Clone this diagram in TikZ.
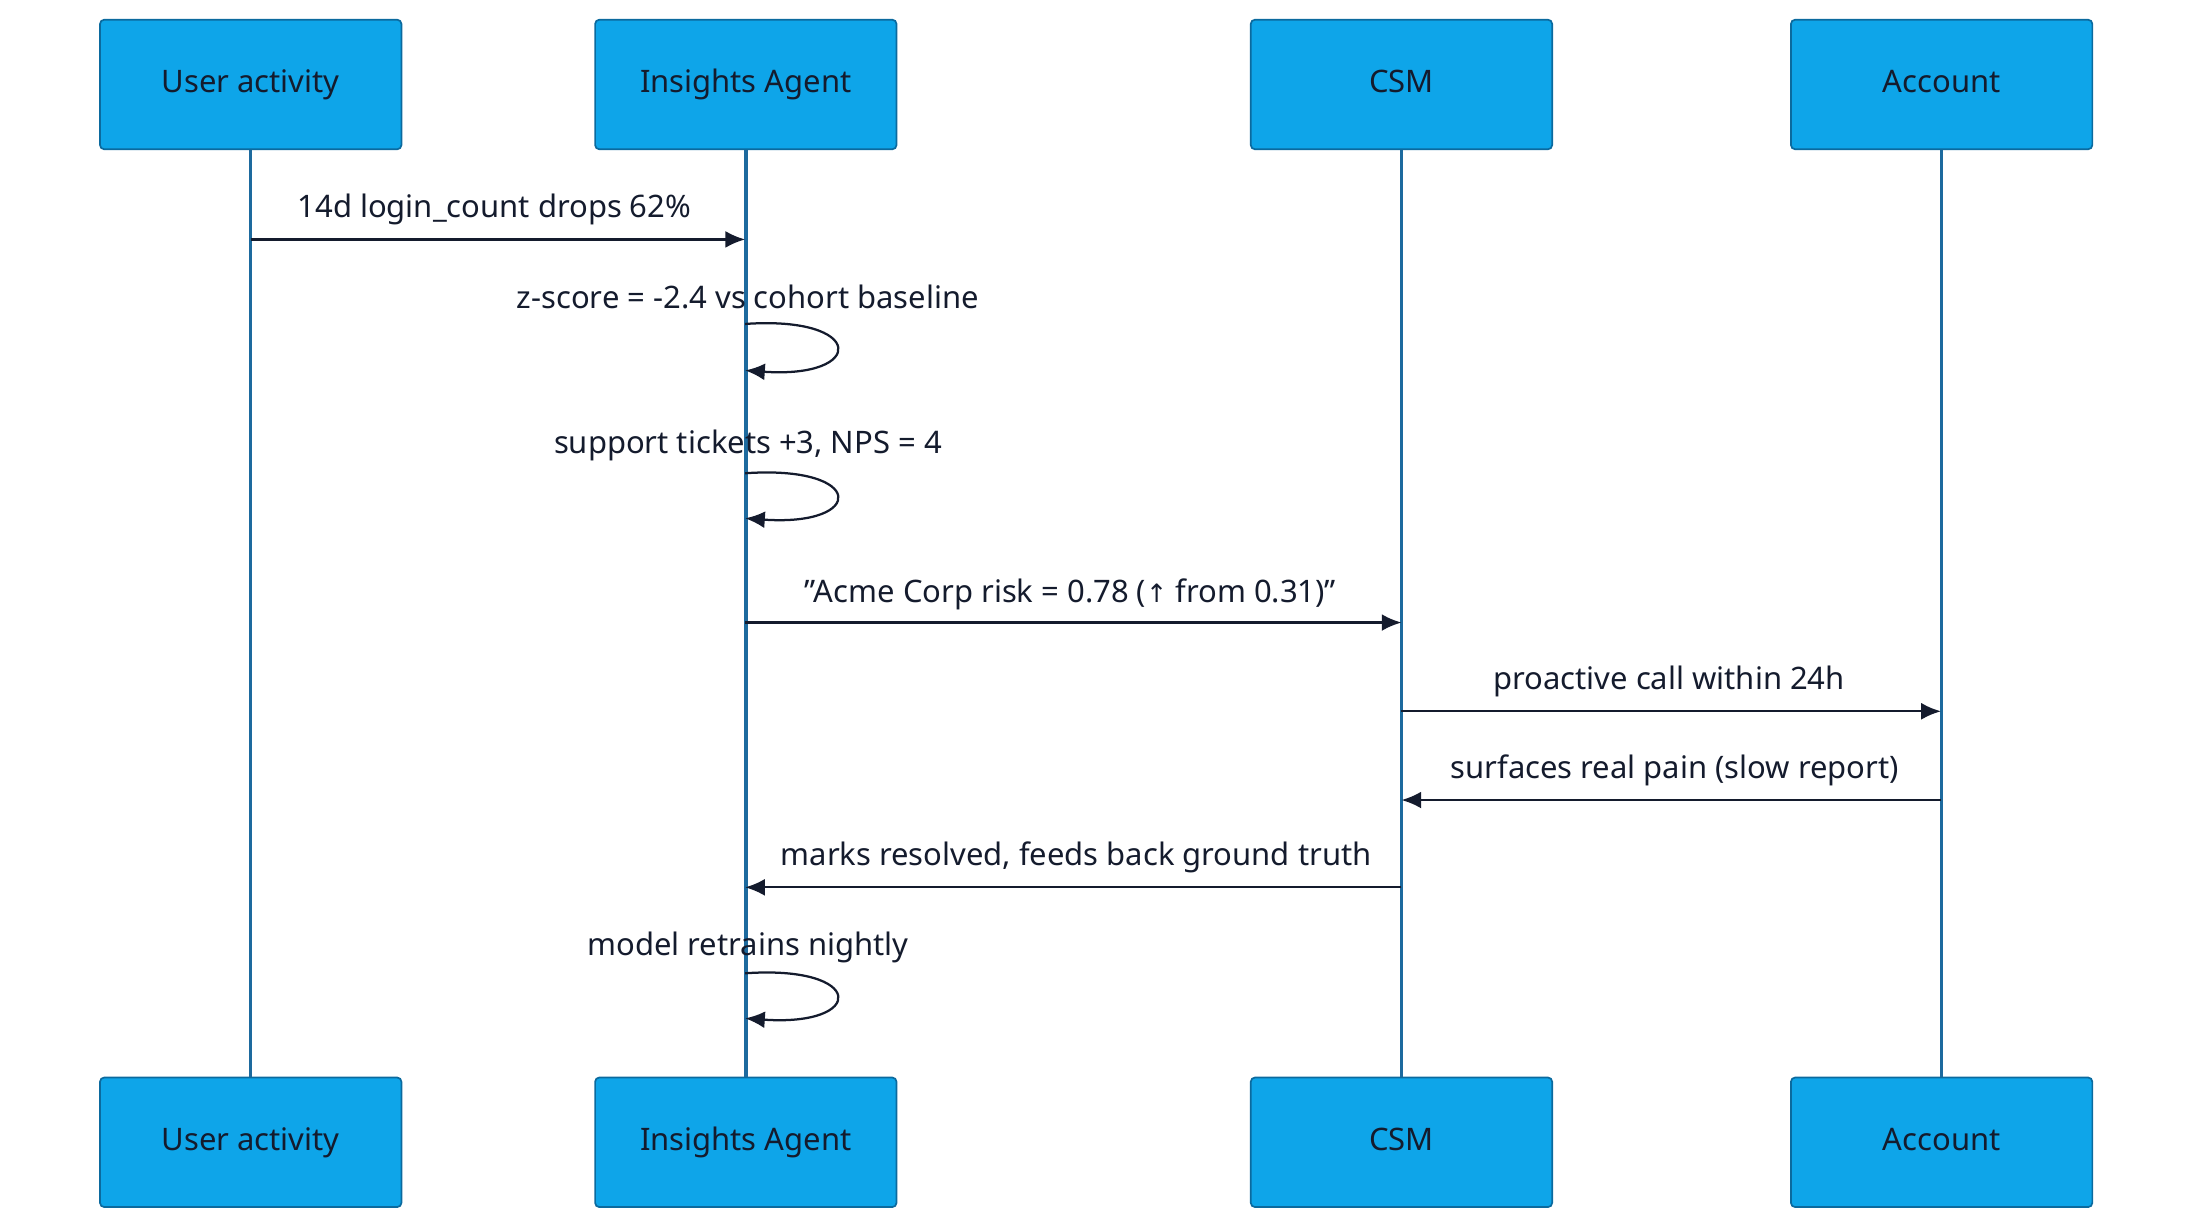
\documentclass[tikz,border=0pt]{standalone}
\usepackage{fontspec}
\setmainfont{Noto Sans}
\newfontfamily\symfont{DejaVu Sans}
\usetikzlibrary{arrows.meta}
\definecolor{boxfill}{HTML}{0EA5E9}
\definecolor{boxline}{HTML}{0B6A9E}
\definecolor{lifeln}{HTML}{1D6A9E}
\definecolor{ink}{HTML}{141B2D}
\tikzset{
  actor/.style={draw=boxline, fill=boxfill, rounded corners=1.5pt, line width=0.6pt,
    minimum width=107pt, minimum height=46pt, text=ink, font=\fontsize{11}{13}\selectfont,
    inner sep=0pt, text height=8pt, text depth=2.5pt},
  life/.style={draw=lifeln, line width=1.2pt},
  msg/.style={draw=ink, line width=0.8pt, -{Latex[length=7pt,width=6pt]}},
  lbl/.style={text=ink, font=\fontsize{11}{13}\selectfont, inner sep=0pt}
}
\begin{document}
\begin{tikzpicture}[x=0.5pt,y=-0.5pt]
\useasboundingbox (0,0) rectangle (1552,870.5);

% actors
\node[actor] (uT) at (178,60) {User activity};
\node[actor] (iT) at (529.5,60) {Insights Agent};
\node[actor] (cT) at (995,60) {CSM};
\node[actor] (aT) at (1378.5,60) {Account};
\node[actor] (uB) at (178,811) {User activity};
\node[actor] (iB) at (529.5,811) {Insights Agent};
\node[actor] (cB) at (995,811) {CSM};
\node[actor] (aB) at (1378.5,811) {Account};

% lifelines
\draw[life] (uT) -- (uB);
\draw[life] (iT) -- (iB);
\draw[life] (cT) -- (cB);
\draw[life] (aT) -- (aB);

% messages
\coordinate (u1) at (178,170); \coordinate (i1) at (529,170);
\draw[msg] (u1) -- (i1);
\node[lbl] (m1) at (351,149) {14d login\_count drops 62\%};

\coordinate (i2) at (529,230); \coordinate (i2e) at (529,263);
\draw[msg] (i2) .. controls (615,224) and (615,269) .. (i2e);
\node[lbl] (m2) at (531,211) {z-score = -2.4 vs cohort baseline};

\coordinate (i3) at (529,336); \coordinate (i3e) at (529,368);
\draw[msg] (i3) .. controls (615,330) and (615,374) .. (i3e);
\node[lbl] (m3) at (531,316) {support tickets +3, NPS = 4};

\coordinate (i4) at (529,442); \coordinate (c4) at (995,442);
\draw[msg] (i4) -- (c4);
\node[lbl] (m4) at (760,422) {\symbol{34}Acme Corp risk = 0.78 ({\symfont\fontsize{9}{11}\selectfont ↑} from 0.31)\symbol{34}};

\coordinate (c5) at (995,505); \coordinate (a5) at (1378,505);
\draw[msg] (c5) -- (a5);
\node[lbl] (m5) at (1185,484) {proactive call within 24h};

\coordinate (a6) at (1378,568); \coordinate (c6) at (995,568);
\draw[msg] (a6) -- (c6);
\node[lbl] (m6) at (1189,547) {surfaces real pain (slow report)};

\coordinate (c7) at (995,630); \coordinate (i7) at (529,630);
\draw[msg] (c7) -- (i7);
\node[lbl] (m7) at (764,609) {marks resolved, feeds back ground truth};

\coordinate (i8) at (529,691); \coordinate (i8e) at (529,723);
\draw[msg] (i8) .. controls (615,685) and (615,729) .. (i8e);
\node[lbl] (m8) at (531,673) {model retrains nightly};
\end{tikzpicture}
\end{document}
